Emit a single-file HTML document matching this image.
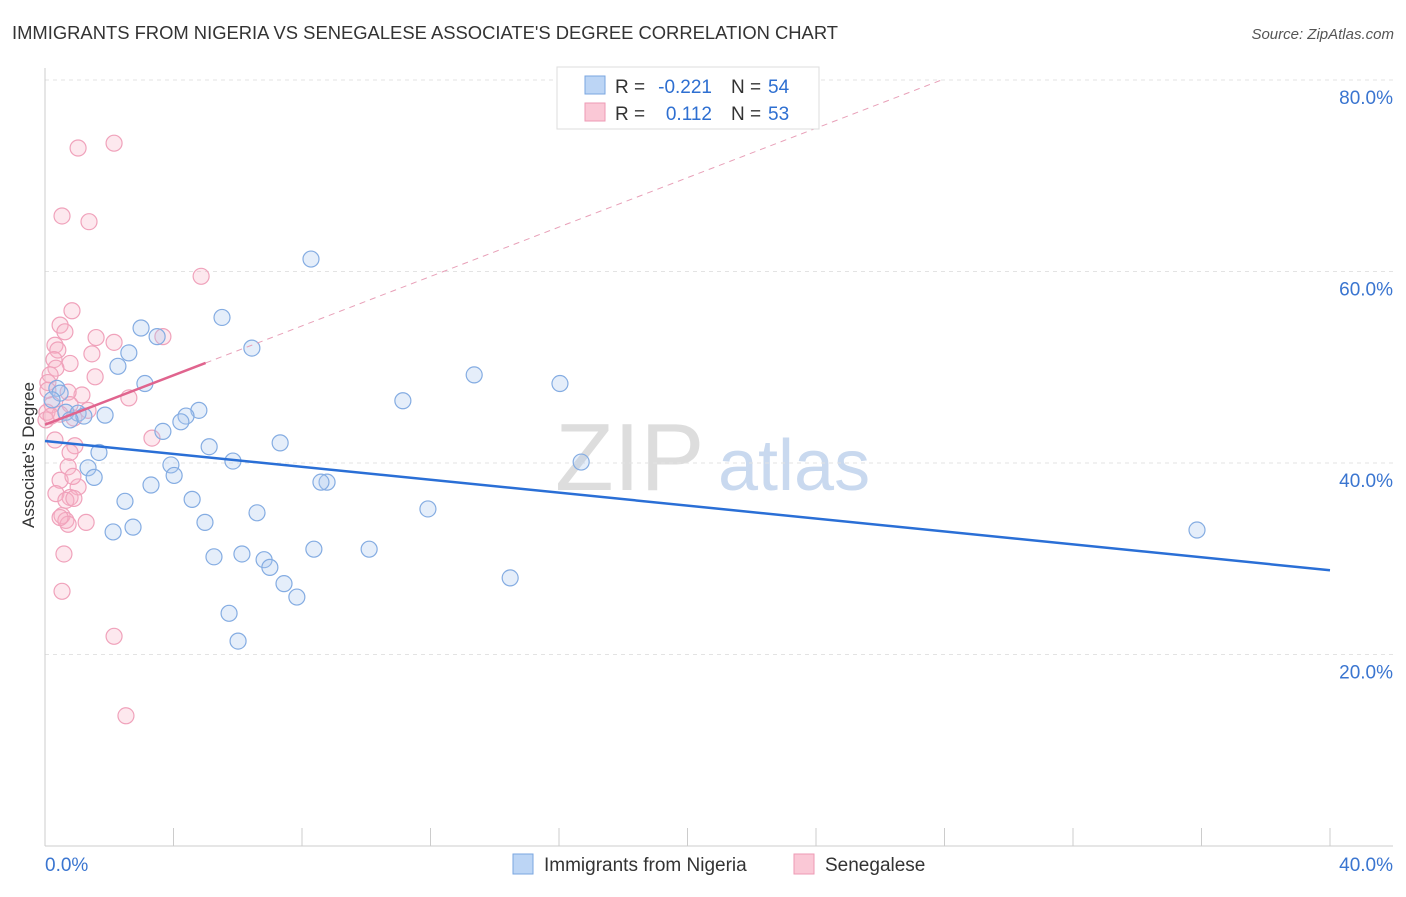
<!DOCTYPE html>
<html><head><meta charset="utf-8"><style>
body{margin:0;background:#fff;font-family:"Liberation Sans",sans-serif;}
svg text{font-family:"Liberation Sans",sans-serif;}
</style></head><body>
<svg id="chart" width="1406" height="892" xmlns="http://www.w3.org/2000/svg">
<text x="12" y="39" font-size="18.4" fill="#333" textLength="826">IMMIGRANTS FROM NIGERIA VS SENEGALESE ASSOCIATE'S DEGREE CORRELATION CHART</text>
<text x="1394" y="39" font-size="15" fill="#555" text-anchor="end" font-style="italic">Source: ZipAtlas.com</text>
<g>
<text x="555" y="490" font-size="96" fill="#ddd" font-family="Liberation Serif,serif">ZIP</text>
<text x="718" y="490" font-size="72" fill="#c9d9ef">atlas</text>
</g>
<g id="grid"></g>
<g id="axes"></g>
<g id="marks"></g>
<text transform="translate(34,455) rotate(-90)" font-size="17" fill="#333" text-anchor="middle">Associate's Degree</text>
<g>
<rect x="557" y="67" width="262" height="62" fill="#fff" stroke="#ddd"/>
<rect x="585" y="76" width="20" height="18" fill="#bcd5f5" stroke="#7aa6e0"/>
<rect x="585" y="103" width="20" height="18" fill="#fac8d6" stroke="#ee9ab4"/>
<text x="615" y="93" font-size="19" fill="#333">R =</text>
<text x="712" y="93" font-size="19" fill="#2e6fd1" text-anchor="end">-0.221</text>
<text x="731" y="93" font-size="19" fill="#333">N =</text>
<text x="768" y="93" font-size="19" fill="#2e6fd1">54</text>
<text x="615" y="120" font-size="19" fill="#333">R =</text>
<text x="712" y="120" font-size="19" fill="#2e6fd1" text-anchor="end">0.112</text>
<text x="731" y="120" font-size="19" fill="#333">N =</text>
<text x="768" y="120" font-size="19" fill="#2e6fd1">53</text>
</g>
<g>
<rect x="513" y="854" width="20" height="20" fill="#bcd5f5" stroke="#7aa6e0"/>
<text x="544" y="871" font-size="19" fill="#333">Immigrants from Nigeria</text>
<rect x="794" y="854" width="20" height="20" fill="#fac8d6" stroke="#ee9ab4"/>
<text x="825" y="871" font-size="19" fill="#333">Senegalese</text>
</g>
</svg>
<script>
const xTicks=[0,40];
const yTicks=[20,40,60,80];
const nigeriaX=[8.28,5.51,2.99,3.49,6.44,2.61,2.27,3.11,13.36,16.03,11.14,0.37,0.47,0.22,4.79,4.39,4.23,3.67,0.65,1.03,1.21,1.87,0.78,7.32,5.11,1.68,5.85,16.69,3.92,1.34,4.02,1.53,3.30,8.78,8.59,4.58,2.49,11.92,6.60,4.98,2.74,2.12,35.86,8.37,10.09,6.13,5.26,6.82,7.00,7.44,7.84,5.73,6.01,14.48];
const nigeriaY=[61.3,55.2,54.1,53.2,52.0,51.5,50.1,48.3,49.2,48.3,46.5,47.8,47.3,46.6,45.5,44.9,44.3,43.3,45.3,45.2,44.9,45.0,44.5,42.1,41.7,41.1,40.2,40.1,39.8,39.5,38.7,38.5,37.7,38.0,38.0,36.2,36.0,35.2,34.8,33.8,33.3,32.8,33.0,31.0,31.0,30.5,30.2,29.9,29.1,27.4,26.0,24.3,21.4,28.0];
const senX=[2.15,1.03,0.53,1.37,4.86,0.84,0.47,0.62,1.59,3.67,2.15,0.31,0.40,1.46,0.28,0.78,0.34,0.16,1.56,0.09,1.15,0.72,2.61,0.22,0.78,1.34,0.06,0.47,0.90,0.03,3.33,0.31,0.93,0.78,0.72,1.03,0.47,0.34,0.78,0.65,0.90,0.53,0.65,0.72,1.28,0.47,0.59,0.53,2.15,2.52,0.09,0.19,0.87];
const senY=[73.4,72.9,65.8,65.2,59.5,55.9,54.4,53.7,53.1,53.2,52.6,52.3,51.8,51.4,50.8,50.4,49.9,49.2,49.0,48.4,47.1,47.4,46.8,46.1,46.1,45.5,45.3,45.1,44.7,44.5,42.6,42.4,41.8,41.1,39.6,37.5,38.2,36.8,36.4,36.1,36.3,34.5,34.0,33.6,33.8,34.3,30.5,26.6,21.9,13.6,47.6,44.9,38.6];
const nigeriaTrend=[42.3,28.8]; // y at x=0 and x=40
const senTrend=[44.0,1.29]; // intercept, slope
const NS="http://www.w3.org/2000/svg";
const X=v=>45+v/40*1285, Y=v=>846-v/20*191.5;
function mk(t,a,p){const e=document.createElementNS(NS,t);for(const k in a)e.setAttribute(k,a[k]);p.appendChild(e);return e;}
const grid=document.getElementById('grid'),axes=document.getElementById('axes'),marks=document.getElementById('marks');
yTicks.forEach(v=>{
 const l=mk('line',{x1:45,x2:1393,y1:Y(v),y2:Y(v),stroke:'#e3e3e3','stroke-dasharray':'4,4'},grid);
 
 
 const t=mk('text',{x:1393,y:Y(v)+24,'font-size':19,fill:'#3a75d0','text-anchor':'end'},axes);
 t.textContent=v.toFixed(1)+'%';
 
 
});
mk('line',{x1:45,x2:45,y1:68,y2:846,stroke:'#ccc'},axes);
mk('line',{x1:45,x2:1393,y1:846,y2:846,stroke:'#ccc'},axes);
for(let i=1;i<=10;i++){mk('line',{x1:X(i*4),x2:X(i*4),y1:828,y2:846,stroke:'#ccc'},axes);}
xTicks.forEach((v,i)=>{
 const t=mk('text',{x:i?1393:45,y:871,'font-size':19,fill:'#3a75d0','text-anchor':i?'end':'start'},axes);
 t.textContent=v.toFixed(1)+'%';
 
 
});
senX.forEach((v,i)=>{
 const c=mk('circle',{cx:X(v),cy:Y(senY[i]),r:8,fill:'rgba(248,180,200,0.3)',stroke:'#f0a2bb','stroke-width':1.2},marks);
 
 
});
nigeriaX.forEach((v,i)=>{
 const c=mk('circle',{cx:X(v),cy:Y(nigeriaY[i]),r:8,fill:'rgba(170,200,240,0.3)',stroke:'#84ace2','stroke-width':1.2},marks);
 
 
});
const xEnd=(80-senTrend[0])/senTrend[1];
const d=mk('line',{x1:X(5),y1:Y(senTrend[0]+5*senTrend[1]),x2:X(xEnd),y2:Y(80),stroke:'#e8a0b8','stroke-dasharray':'6,5'},marks);


const s=mk('line',{x1:X(0),y1:Y(senTrend[0]),x2:X(5),y2:Y(senTrend[0]+5*senTrend[1]),stroke:'#e0648e','stroke-width':2.5},marks);


const b=mk('line',{x1:X(0),y1:Y(nigeriaTrend[0]),x2:X(40),y2:Y(nigeriaTrend[1]),stroke:'#2a6fd6','stroke-width':2.5},marks);


</script>
</body></html>
